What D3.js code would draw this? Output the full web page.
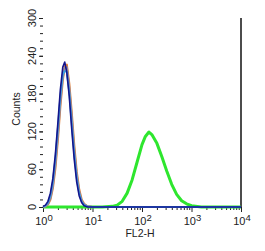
<!DOCTYPE html>
<html>
<head>
<meta charset="utf-8">
<script src="https://cdn.jsdelivr.net/npm/d3@7"></script>
<style>
  body { margin: 0; background: #fff; }
  text { font-family: "Liberation Sans", Arial, sans-serif; fill: #222; }
</style>
</head>
<body>
<svg id="chart" width="265" height="251"></svg>
<script>
// FL2-H channel values and counts
var isoX     = [1, 1.12, 1.26, 1.41, 1.58, 1.78, 2.0, 2.24, 2.51, 2.75, 3.02, 3.39, 3.8, 4.27, 4.79, 5.37, 6.03, 6.76, 7.94, 10, 10000];
var navyY    = [1, 3, 9, 22, 45, 84, 134, 186, 222, 230, 214, 176, 124, 76, 40, 18, 7, 2, 0, 0, 0];
var lblueY   = [0, 2, 7, 18, 40, 78, 127, 176, 210, 216, 214, 182, 132, 84, 46, 22, 9, 3, 1, 0, 0];
var orangeY  = [0, 1, 4, 12, 30, 62, 108, 160, 202, 222, 226, 196, 150, 98, 56, 28, 12, 5, 1, 0, 0];
var grayY    = [0, 1, 5, 14, 33, 68, 114, 166, 206, 220, 222, 190, 144, 92, 52, 25, 10, 4, 1, 0, 0];

var posX     = [1, 15.8, 25.1, 31.6, 39.8, 50.1, 63.1, 79.4, 100, 117, 138, 158, 200, 251, 316, 398, 501, 631, 794, 1000, 1585, 10000];
var greenY   = [0, 0, 1, 3, 9, 22, 43, 71, 99, 112, 119, 115, 101, 80, 57, 36, 20, 10, 5, 2, 0, 0];

var yTicks = [0, 60, 120, 180, 240, 300];
var xTicks = [1, 10, 100, 1000, 10000];

var svg = d3.select("#chart"),
    margin = {top: 18, right: 24, bottom: 44, left: 43},
    width = +svg.attr("width") - margin.left - margin.right,
    height = +svg.attr("height") - margin.top - margin.bottom,
    g = svg.append("g").attr("transform", "translate(" + margin.left + "," + margin.top + ")");

var x = d3.scaleLog().domain([1, 10000]).range([0, width]),
    y = d3.scaleLinear().domain([0, 300]).range([height, 0]);

// y axis: minor ticks every 12, labels every 60
var minorY = d3.range(0, 301, 12);
g.append("g")
    .call(d3.axisLeft(y).tickValues(minorY).tickSize(3).tickFormat(""))
    .call(function(a) { a.select(".domain").remove(); })
    .selectAll("line").attr("stroke", "#222");
g.append("g")
    .call(d3.axisLeft(y).tickValues(yTicks).tickSize(4).tickFormat(""))
    .call(function(a) { a.select(".domain").remove(); })
    .selectAll("line").attr("stroke", "#222");
g.selectAll(".ylab")
    .data(yTicks)
  .enter().append("text")
    .attr("class", "ylab")
    .attr("transform", function(d) { return "translate(-7," + y(d) + ") rotate(-90)"; })
    .attr("text-anchor", "middle")
    .style("font-size", "11px")
    .text(function(d) { return d; });

svg.append("text")
    .attr("transform", "translate(20,109) rotate(-90)")
    .attr("text-anchor", "middle")
    .style("font-size", "10.5px")
    .text("Counts");

// x axis: log minor ticks
var minorX = [];
for (var e = 0; e < 4; e++) for (var m = 2; m < 10; m++) minorX.push(m * Math.pow(10, e));
g.append("g")
    .attr("transform", "translate(0," + height + ")")
    .call(d3.axisBottom(x).tickValues(minorX).tickSize(3).tickFormat(""))
    .call(function(a) { a.select(".domain").remove(); })
    .selectAll("line").attr("stroke", "#222");
g.append("g")
    .attr("transform", "translate(0," + height + ")")
    .call(d3.axisBottom(x).tickValues(xTicks).tickSize(5).tickFormat(""))
    .call(function(a) { a.select(".domain").remove(); })
    .selectAll("line").attr("stroke", "#222");

var xl = g.selectAll(".xlab")
    .data(xTicks)
  .enter().append("text")
    .attr("class", "xlab")
    .attr("x", function(d) { return x(d) + 1; })
    .attr("y", height + 18)
    .attr("text-anchor", "middle")
    .style("font-size", "11px");
xl.append("tspan").text("10");
xl.append("tspan")
    .attr("dy", -4)
    .style("font-size", "9.5px")
    .text(function(d) { return Math.round(Math.log10(d)); });

svg.append("text")
    .attr("x", 140)
    .attr("y", 237)
    .attr("text-anchor", "middle")
    .style("font-size", "10.5px")
    .text("FL2-H");

// right frame line
g.append("line")
    .attr("x1", width).attr("x2", width)
    .attr("y1", 0).attr("y2", height)
    .attr("stroke", "#111")
    .attr("stroke-width", 1.5);

var line = d3.line()
    .x(function(d) { return x(d[0]); })
    .y(function(d) { return y(d[1]); });

function draw(xs, ys, color, w) {
  g.append("path")
      .datum(d3.zip(xs, ys))
      .attr("fill", "none")
      .attr("stroke", color)
      .attr("stroke-width", w)
      .attr("stroke-linejoin", "round")
      .attr("d", line);
}

draw(posX, greenY, "#2ee62e", 3);
draw(isoX, orangeY, "#e0803c", 2.2);
draw(isoX, grayY, "#8a8aa6", 2);
draw(isoX, lblueY, "#3a9ee0", 1.8);
draw(isoX, navyY, "#14148c", 1.6);
</script>
</body>
</html>
